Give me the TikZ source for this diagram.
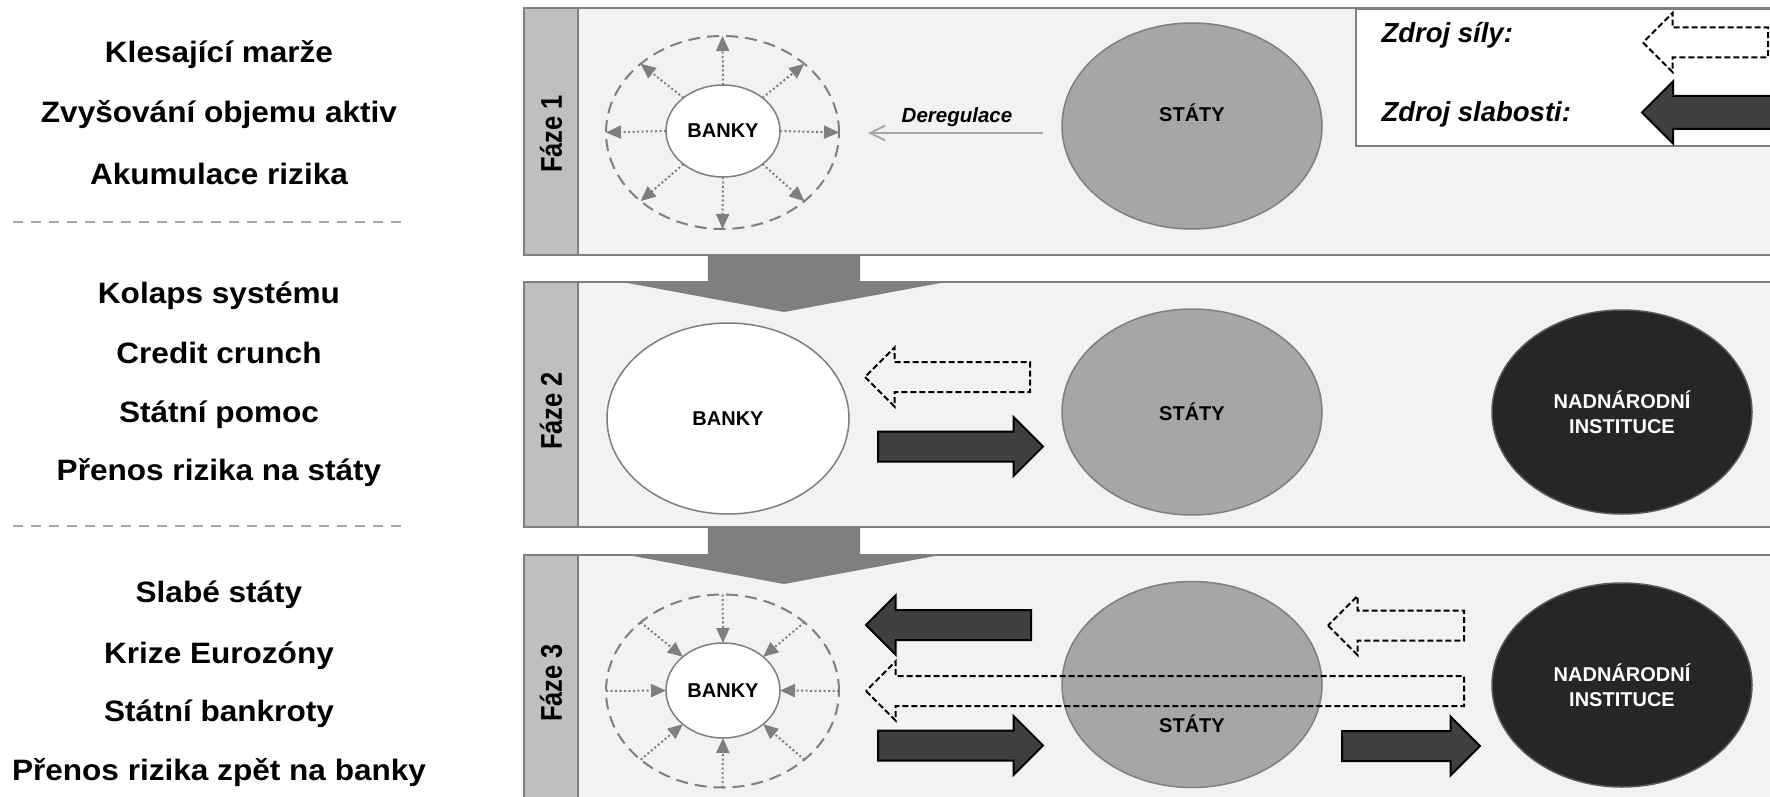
\documentclass[tikz,border=0pt]{standalone}
\usepackage{fontspec}
\setmainfont{Liberation Sans}
\newfontfamily\widesf[FakeStretch=1.07]{Liberation Sans}
\newfontfamily\narrowsf[FakeStretch=0.85]{Liberation Sans}
\usetikzlibrary{shapes.geometric,shapes.arrows,arrows.meta}

\definecolor{panelfill}{HTML}{F2F2F2}
\definecolor{stripfill}{HTML}{BFBFBF}
\definecolor{framegray}{HTML}{7F7F7F}
\definecolor{statefill}{HTML}{A6A6A6}
\definecolor{suprafill}{HTML}{262626}
\definecolor{weakfill}{HTML}{404040}
\definecolor{sepgray}{HTML}{A6A6A6}

\tikzset{
  panel/.style={draw=framegray, line width=2.5pt, fill=panelfill},
  strip/.style={draw=framegray, line width=2.5pt, fill=stripfill},
  phaselabel/.style={rotate=90, font=\narrowsf\bfseries\fontsize{30}{36}\selectfont},
  cause/.style={anchor=base, font=\widesf\bfseries\fontsize{29.5}{36}\selectfont},
  separator/.style={draw=sepgray, line width=2.5pt, dash pattern=on 10pt off 8pt},
  blob/.style={ellipse, draw=framegray, line width=1.5pt, inner sep=0pt, outer sep=0pt,
    font=\bfseries\fontsize{20}{25.5}\selectfont, align=center},
  banks/.style={blob, fill=white},
  states/.style={blob, fill=statefill, minimum width=260pt, minimum height=206pt},
  supra/.style={blob, fill=suprafill, draw=black!65, text=white, minimum width=260pt, minimum height=204pt},
  ring/.style={ellipse, draw=framegray, line width=2pt, dash pattern=on 12pt off 7pt,
    inner sep=0pt, outer sep=0pt, minimum width=233pt, minimum height=193pt},
  spread/.style={draw=framegray, line width=2pt, dash pattern=on 2pt off 2.5pt,
    -{Triangle[length=15pt,width=13pt]}},
  blocktip/.style={single arrow, inner xsep=0pt, inner ysep=14pt, outer sep=0pt,
    single arrow head extend=14.5pt, single arrow tip angle=90, line width=2pt, anchor=tip},
  weak/.style={blocktip, draw=black, fill=weakfill},
  force/.style={blocktip, draw=black, dash pattern=on 6pt off 3pt},
  phasearrow/.style={single arrow, fill=framegray, inner xsep=76pt, inner ysep=0pt, outer sep=0pt,
    single arrow head extend=85pt, single arrow tip angle=159, minimum height=57pt,
    shape border rotate=270, anchor=tip},
  legend/.style={anchor=base west, font=\bfseries\itshape\fontsize{27.5}{33}\selectfont},
  stateslbl/.style={anchor=base, font=\bfseries\fontsize{20}{25.5}\selectfont},
}

\begin{document}
\begin{tikzpicture}[x=1pt,y=-1pt]
	\fill[white] (0,0) rectangle (1770,797);
	\useasboundingbox (0,0) rectangle (1770,797);

	% left column
	\node[cause] (cause1)  at (219,63)  {Klesající marže};
	\node[cause] (cause2)  at (219,123) {Zvyšování objemu aktiv};
	\node[cause] (cause3)  at (219,184) {Akumulace rizika};
	\draw[separator] (13,222)--(405,222);
	\node[cause] (cause4)  at (219,303) {Kolaps systému};
	\node[cause] (cause5)  at (219,363) {Credit crunch};
	\node[cause] (cause6)  at (219,422) {Státní pomoc};
	\node[cause] (cause7)  at (219,480) {Přenos rizika na státy};
	\draw[separator] (13,526)--(405,526);
	\node[cause] (cause8)  at (219,602) {Slabé státy};
	\node[cause] (cause9)  at (219,663) {Krize Eurozóny};
	\node[cause] (cause10) at (219,721) {Státní bankroty};
	\node[cause] (cause11) at (219,780) {Přenos rizika zpět na banky};

	% panels
	\draw[panel] (524,8) rectangle (1790,255);
	\draw[panel] (524,282) rectangle (1790,527);
	\draw[panel] (524,555) rectangle (1790,815);
	\draw[strip] (524,8) rectangle (578,255);
	\draw[strip] (524,282) rectangle (578,527);
	\draw[strip] (524,555) rectangle (578,815);
	\node[phaselabel] (phase1) at (551,134) {Fáze 1};
	\node[phaselabel] (phase2) at (551,411) {Fáze 2};
	\node[phaselabel] (phase3) at (551,683) {Fáze 3};
	\node[phasearrow] (step12) at (784,312) {};
	\node[phasearrow] (step23) at (784,584) {};

	% legend
	\draw[draw=framegray, line width=2pt, fill=white] (1356,9) rectangle (1790,146);
	\node[legend] (legend1) at (1378,43)  {Zdroj síly:};
	\node[legend] (legend2) at (1378,122) {Zdroj slabosti:};
	\node[force, minimum height=125pt, shape border rotate=180] (legendforce) at (1643,42.5) {};
	\node[weak, minimum height=150pt, shape border rotate=180, inner ysep=15.5pt] (legendweak) at (1642,112.5) {};

	% phase 1
	\node[ring] (ring1) at (722.5,132.5) {};
	\node[banks, minimum width=114pt, minimum height=92pt] (bank1) at (723,131) {BANKY};
	\foreach \a in {0,40,90,140,180,220,270,320}
		\draw[spread] (bank1.\a)--(ring1.\a);
	\node[states] (states1) at (1192,126) {};
	\node[stateslbl] (states1lbl) at (1192,122) {STÁTY};
	\coordinate (dereg1) at (1043,133);
	\coordinate (dereg2) at (868,133);
	\draw[draw=statefill, line width=2pt, -{Straight Barb[length=15pt,width=15pt]}] (dereg1)--(dereg2);
	\node[anchor=base, font=\bfseries\itshape\fontsize{20.5}{25}\selectfont] (dereglbl) at (957,123) {Deregulace};

	% phase 2
	\node[banks, minimum width=242pt, minimum height=191pt] (bank2) at (728,418.5) {BANKY};
	\node[states] (states2) at (1192,412) {STÁTY};
	\node[supra] (supra2) at (1622,412) {NADNÁRODNÍ\\INSTITUCE};
	\node[force, minimum height=165pt, shape border rotate=180] (force2) at (865,377) {};
	\node[weak, minimum height=165pt] (weak2) at (1043,446.5) {};

	% phase 3
	\node[ring] (ring3) at (722.5,691) {};
	\node[banks, minimum width=114pt, minimum height=95pt] (bank3) at (723,690.5) {BANKY};
	\foreach \a in {0,40,90,140,180,220,270,320}
		\draw[spread] (ring3.\a)--(bank3.\a);
	\node[states] (states3) at (1192,684.5) {};
	\node[stateslbl] (states3lbl) at (1192,732) {STÁTY};
	\node[supra] (supra3) at (1622,685) {NADNÁRODNÍ\\INSTITUCE};
	\node[weak, minimum height=165pt, shape border rotate=180] (weak3a) at (866,625) {};
	\node[force, minimum height=598pt, shape border rotate=180] (force3a) at (866,691) {};
	\node[weak, minimum height=165pt] (weak3b) at (1043,745.5) {};
	\node[force, minimum height=136pt, shape border rotate=180] (force3b) at (1328,625.5) {};
	\node[weak, minimum height=138pt] (weak3c) at (1480,746) {};
\end{tikzpicture}
\end{document}
